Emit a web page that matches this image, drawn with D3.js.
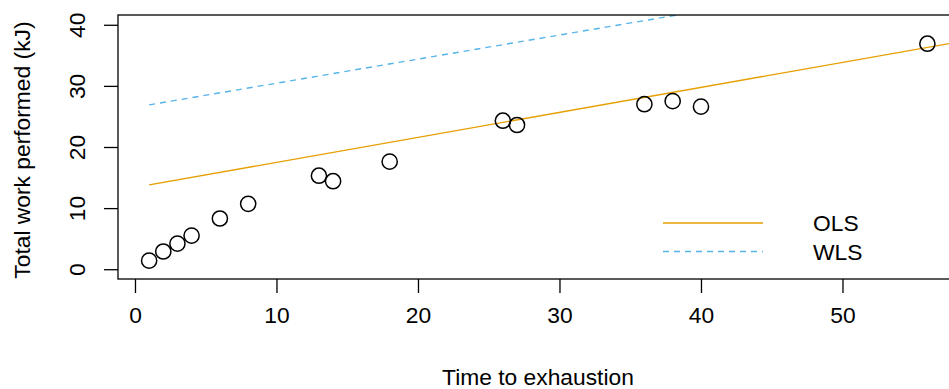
<!DOCTYPE html>
<meta charset="utf-8">
<script src="https://cdnjs.cloudflare.com/ajax/libs/d3/7.8.5/d3.min.js"></script>
<style>
  body { margin: 0; background: #fff; }
  text { font-family: "Liberation Sans", Arial, Helvetica, sans-serif; font-size: 22.8px; fill: #000; }
</style>
<body>
<script>

// observations
var time = [1, 2, 3, 4, 6, 8, 13, 14, 18, 26, 27, 36, 38, 40, 56];
var work = [1.4, 2.9, 4.2, 5.5, 8.3, 10.7, 15.3, 14.4, 17.6, 24.3, 23.6, 27.0, 27.5, 26.6, 36.9];

// fitted lines (intercept, slope)
var olsCoef = [13.39, 0.409];
var wlsCoef = [26.5, 0.394];
var fitRange = [1, 60];

var xTicks = [0, 10, 20, 30, 40, 50];
var yTicks = [0, 10, 20, 30, 40];
var legendLabels = ["OLS", "WLS"];

var W = 949, H = 389;
var plotLeft = 118, plotTop = 15, plotBottom = 279;

var x = d3.scaleLinear().domain([-1.2, 58.2]).range([plotLeft, plotLeft + 59.4 * 14.15]);
var y = d3.scaleLinear().domain([-1.6, 41.6]).range([plotBottom, plotTop]);

var svg = d3.select("body").append("svg")
    .attr("width", W)
    .attr("height", H);

svg.append("defs").append("clipPath").attr("id", "plotclip")
  .append("rect")
    .attr("x", x.range()[0]).attr("y", plotTop)
    .attr("width", x.range()[1] - x.range()[0])
    .attr("height", plotBottom - plotTop);

// fit lines
var fits = [
  {coef: olsCoef, color: "#E69F00", dash: null},
  {coef: wlsCoef, color: "#56B4E9", dash: "6,5"}
];

var line = d3.line()
  .x(function(d) { return x(d[0]); })
  .y(function(d) { return y(d[1]); });

svg.append("g").attr("clip-path", "url(#plotclip)")
  .selectAll("path").data(fits).enter().append("path")
    .attr("d", function(f) {
      return line(fitRange.map(function(t) { return [t, f.coef[0] + f.coef[1] * t]; }));
    })
    .attr("fill", "none")
    .attr("stroke", function(f) { return f.color; })
    .attr("stroke-width", 1.4)
    .attr("stroke-dasharray", function(f) { return f.dash; });

// points
svg.append("g").selectAll("circle").data(time).enter().append("circle")
    .attr("cx", function(d) { return x(d); })
    .attr("cy", function(d, i) { return y(work[i]); })
    .attr("r", 7.6)
    .attr("fill", "none")
    .attr("stroke", "#000")
    .attr("stroke-width", 1.5);

// box
svg.append("rect")
    .attr("x", x.range()[0]).attr("y", plotTop)
    .attr("width", x.range()[1] - x.range()[0])
    .attr("height", plotBottom - plotTop)
    .attr("fill", "none")
    .attr("stroke", "#000")
    .attr("stroke-width", 1.3);

// x axis
var xAxis = svg.append("g")
    .attr("transform", "translate(0," + plotBottom + ")")
    .call(d3.axisBottom(x).tickValues(xTicks).tickSize(14).tickPadding(20).tickSizeOuter(0));
xAxis.select(".domain").remove();
xAxis.selectAll("line").attr("stroke-width", 1.3);
xAxis.selectAll("text").attr("font-size", null).attr("font-family", null).attr("dy", "0.45em");

// y axis, labels turned parallel to the axis
var yAxis = svg.append("g")
    .attr("transform", "translate(" + plotLeft + ",0)")
    .call(d3.axisLeft(y).tickValues(yTicks).tickSize(14).tickSizeOuter(0));
yAxis.select(".domain").remove();
yAxis.selectAll("line").attr("stroke-width", 1.3);
yAxis.selectAll("text")
    .attr("font-size", null).attr("font-family", null)
    .attr("x", null).attr("dy", null)
    .attr("text-anchor", "middle")
    .attr("dominant-baseline", "central")
    .attr("transform", "translate(" + (77 - plotLeft) + ",0) rotate(-90)");

// axis titles
svg.append("text")
    .attr("x", 538).attr("y", 385)
    .attr("text-anchor", "middle")
    .text("Time to exhaustion");

svg.append("text")
    .attr("transform", "translate(22," + y(19.5) + ") rotate(-90)")
    .attr("text-anchor", "middle")
    .attr("dominant-baseline", "central")
    .text("Total work performed (kJ)");

// legend
var legend = svg.append("g").selectAll("g").data(fits).enter().append("g")
    .attr("transform", function(d, i) { return "translate(663," + (223 + i * 28.5) + ")"; });
legend.append("line")
    .attr("x1", 0).attr("x2", 100)
    .attr("stroke", function(f) { return f.color; })
    .attr("stroke-width", 1.4)
    .attr("stroke-dasharray", function(f) { return f.dash; });
legend.append("text")
    .attr("x", 150)
    .attr("dominant-baseline", "central")
    .text(function(d, i) { return legendLabels[i]; });

</script>
</body>
